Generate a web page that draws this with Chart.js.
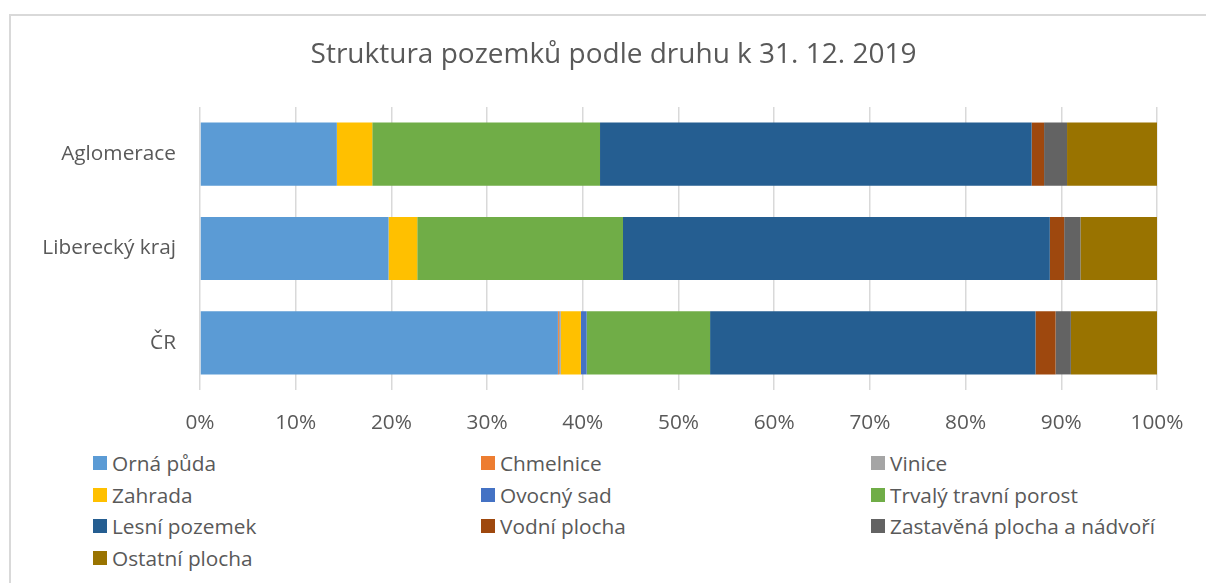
<!DOCTYPE html>
<html lang="cs">
<head>
<meta charset="UTF-8">
<title>Struktura pozemků podle druhu k 31. 12. 2019</title>
<script src="https://cdn.jsdelivr.net/npm/chart.js@4"></script>
<style>
  html, body { margin: 0; padding: 0; background: #fff; overflow: hidden; }
  body { width: 1206px; height: 583px; position: relative; font-family: "Open Sans", Lato, sans-serif; }
  .frame { position: absolute; left: 9px; top: 14px; width: 1300px; height: 700px; border: 2px solid #d9d9d9; box-sizing: border-box; }
  .wrap { position: absolute; left: 0; top: 0; width: 1206px; height: 440px; }
  #legend { position: absolute; left: 93px; top: 447px; display: grid; grid-template-columns: 388px 390px 300px; grid-auto-rows: 31.7px; }
  #legend .item { display: flex; align-items: center; font-size: 20.8px; color: #595959; white-space: nowrap; }
  #legend .box { width: 14px; height: 14px; margin-right: 5px; flex: none; }
</style>
</head>
<body>
<div class="frame"></div>
<div class="wrap"><canvas id="chart" width="1206" height="440"></canvas></div>
<div id="legend"></div>
<script>
// kategorie (shora dolů)
const categories = ['Aglomerace', 'Liberecký kraj', 'ČR'];

// druhy pozemků a jejich barvy
const seriesNames = ['Orná půda', 'Chmelnice', 'Vinice', 'Zahrada', 'Ovocný sad',
  'Trvalý travní porost', 'Lesní pozemek', 'Vodní plocha', 'Zastavěná plocha a nádvoří', 'Ostatní plocha'];
const seriesColors = ['#5b9bd5', '#ed7d31', '#a5a5a5', '#ffc000', '#4472c4',
  '#70ad47', '#255e91', '#9e480e', '#636363', '#997300'];

// podíly v % (Aglomerace, Liberecký kraj, ČR)
const ornaPuda     = [14.3, 19.7, 37.4];
const chmelnice    = [0.0, 0.0, 0.1];
const vinice       = [0.0, 0.0, 0.2];
const zahrada      = [3.7, 3.0, 2.1];
const ovocnySad    = [0.0, 0.0, 0.6];
const trvalyPorost = [23.8, 21.5, 12.9];
const lesniPozemek = [45.1, 44.6, 34.0];
const vodniPlocha  = [1.3, 1.5, 2.1];
const zastavena    = [2.4, 1.7, 1.6];
const ostatni      = [9.4, 8.0, 9.0];

const xTicks = [0, 10, 20, 30, 40, 50, 60, 70, 80, 90, 100];

const seriesValues = [ornaPuda, chmelnice, vinice, zahrada, ovocnySad,
  trvalyPorost, lesniPozemek, vodniPlocha, zastavena, ostatni];

const textColor = '#595959';
const fontFamily = '"Open Sans", Lato, sans-serif';

new Chart(document.getElementById('chart'), {
  type: 'bar',
  data: {
    labels: categories,
    datasets: seriesNames.map((name, i) => ({
      label: name,
      data: seriesValues[i],
      backgroundColor: seriesColors[i],
      borderWidth: 0,
      barPercentage: 0.67,
      categoryPercentage: 1
    }))
  },
  options: {
    indexAxis: 'y',
    responsive: false,
    animation: false,
    // levý okraj + prázdná pravá osa, aby byl nadpis vycentrován jako v originále
    layout: { padding: { left: 21, right: 0, top: 0, bottom: 0 } },
    plugins: {
      legend: { display: false },
      tooltip: { enabled: false },
      title: {
        display: true,
        text: 'Struktura pozemků podle druhu k 31. 12. 2019',
        color: textColor,
        font: { family: fontFamily, size: 28, weight: 'normal' },
        padding: { top: 38.2, bottom: 35.2 }
      }
    },
    scales: {
      x: {
        stacked: true,
        min: 0,
        max: 100,
        afterBuildTicks: axis => { axis.ticks = xTicks.map(v => ({ value: v })); },
        afterFit: axis => { axis.height = 50; },
        ticks: {
          color: textColor,
          font: { family: fontFamily, size: 20.8 },
          padding: 20.5,
          callback: v => v + '%'
        },
        grid: { color: '#d9d9d9', lineWidth: 1.5, drawTicks: false },
        border: { display: false }
      },
      y: {
        stacked: true,
        afterFit: axis => { axis.width = 179; },
        ticks: {
          color: textColor,
          font: { family: fontFamily, size: 20.8 },
          padding: 24
        },
        grid: { display: false, drawTicks: false },
        border: { display: false }
      },
      yRight: {
        position: 'right',
        afterFit: axis => { axis.width = 49; },
        ticks: { display: false },
        grid: { display: false, drawTicks: false },
        border: { display: false }
      }
    }
  }
});

// legenda ve třech sloupcích jako v Excelu
const legend = document.getElementById('legend');
seriesNames.forEach((name, i) => {
  const item = document.createElement('div');
  item.className = 'item';
  const box = document.createElement('span');
  box.className = 'box';
  box.style.background = seriesColors[i];
  item.appendChild(box);
  item.appendChild(document.createTextNode(name));
  legend.appendChild(item);
});
</script>
</body>
</html>
